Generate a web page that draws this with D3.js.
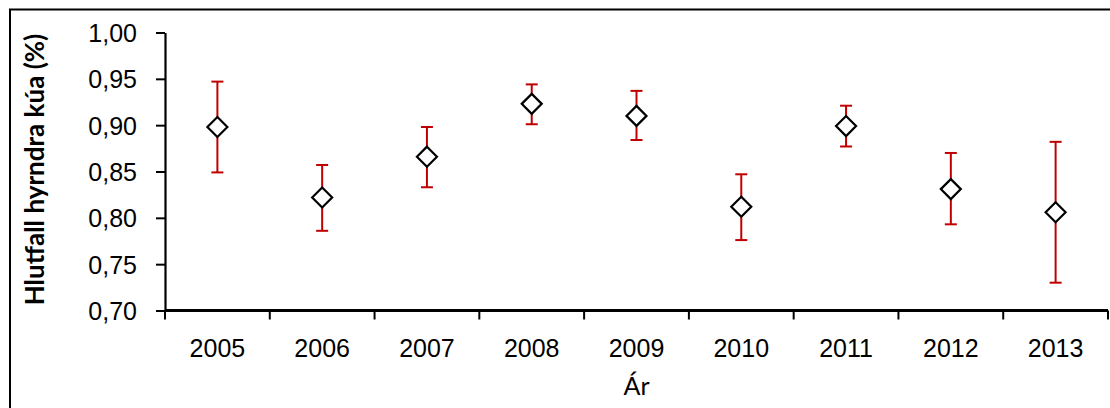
<!DOCTYPE html>
<html>
<head>
<meta charset="utf-8">
<script src="https://cdn.jsdelivr.net/npm/d3@7"></script>
<style>
  html, body { margin: 0; padding: 0; background: #fff; }
  svg { display: block; font-family: Lato, "Open Sans", sans-serif; }
</style>
</head>
<body>
<svg id="chart" width="1110" height="408"></svg>
<script>
// Hlutfall hyrndra kúa eftir árum, með vikmörkum
const years = ["2005", "2006", "2007", "2008", "2009", "2010", "2011", "2012", "2013"];
const means = [0.898, 0.822, 0.866, 0.923, 0.910, 0.812, 0.899, 0.831, 0.806];
const upper = [0.947, 0.857, 0.898, 0.944, 0.937, 0.847, 0.921, 0.870, 0.882];
const lower = [0.849, 0.786, 0.833, 0.901, 0.884, 0.776, 0.877, 0.793, 0.730];
const yTicks = [0.70, 0.75, 0.80, 0.85, 0.90, 0.95, 1.00];

const svg = d3.select("#chart");
const plot = { left: 165, right: 1108, top: 32.5, bottom: 310.5 };

// chart frame
svg.append("rect")
  .attr("x", 10).attr("y", 9.5)
  .attr("width", 1200).attr("height", 500)
  .attr("fill", "none").attr("stroke", "#000").attr("stroke-width", 2);

const x = d3.scaleBand().domain(years).range([plot.left, plot.right]);
const y = d3.scaleLinear().domain([0.70, 1.00]).range([plot.bottom, plot.top]);
const fmt = d => d3.format(".2f")(d).replace(".", ",");

// y axis
const yAxis = svg.append("g")
  .attr("transform", `translate(${plot.left},0)`)
  .call(d3.axisLeft(y).tickValues(yTicks).tickFormat(fmt).tickSizeInner(9).tickSizeOuter(0).tickPadding(19));
yAxis.select(".domain").attr("stroke-width", 2.2);
yAxis.selectAll(".tick line").attr("stroke-width", 2);
yAxis.selectAll(".tick text").attr("font-size", 25).attr("fill", "#000").attr("dy", "0.36em");

// x axis with ticks between categories
const xAxis = svg.append("g")
  .attr("transform", `translate(0,${plot.bottom})`)
  .call(d3.axisBottom(x).tickSize(0).tickPadding(29));
xAxis.select(".domain").attr("stroke-width", 3).attr("d", `M${plot.left},0H${plot.right}`);
xAxis.selectAll(".tick text").attr("font-size", 25).attr("fill", "#000").attr("dy", "0.71em");
const boundaries = years.map(d => x(d)).concat([x(years[years.length - 1]) + x.bandwidth()]);
xAxis.selectAll("line.sep").data(boundaries).enter().append("line")
  .attr("class", "sep")
  .attr("x1", d => d).attr("x2", d => d)
  .attr("y1", 0).attr("y2", 9)
  .attr("stroke", "#000").attr("stroke-width", 2);

// error bars
const cx = i => x(years[i]) + x.bandwidth() / 2;
const bars = svg.append("g").attr("stroke", "#c00000").attr("stroke-width", 2);
years.forEach((yr, i) => {
  bars.append("line").attr("x1", cx(i)).attr("x2", cx(i)).attr("y1", y(upper[i])).attr("y2", y(lower[i]));
  bars.append("line").attr("x1", cx(i) - 6).attr("x2", cx(i) + 6).attr("y1", y(upper[i])).attr("y2", y(upper[i]));
  bars.append("line").attr("x1", cx(i) - 6).attr("x2", cx(i) + 6).attr("y1", y(lower[i])).attr("y2", y(lower[i]));
});

// diamond markers
const r = 10;
svg.append("g").selectAll("path").data(means).enter().append("path")
  .attr("d", (d, i) => `M${cx(i)},${y(d) - r}L${cx(i) + r},${y(d)}L${cx(i)},${y(d) + r}L${cx(i) - r},${y(d)}Z`)
  .attr("fill", "#fff").attr("stroke", "#000").attr("stroke-width", 2.2);

// axis titles
svg.append("text")
  .attr("transform", `translate(44,${(plot.top + plot.bottom) / 2 - 2}) rotate(-90)`)
  .attr("text-anchor", "middle")
  .attr("font-size", 26).attr("font-weight", "bold")
  .text("Hlutfall hyrndra kúa (%)");

svg.append("text")
  .attr("x", (plot.left + plot.right) / 2).attr("y", 395)
  .attr("text-anchor", "middle")
  .attr("font-size", 25)
  .text("Ár");
</script>
</body>
</html>
